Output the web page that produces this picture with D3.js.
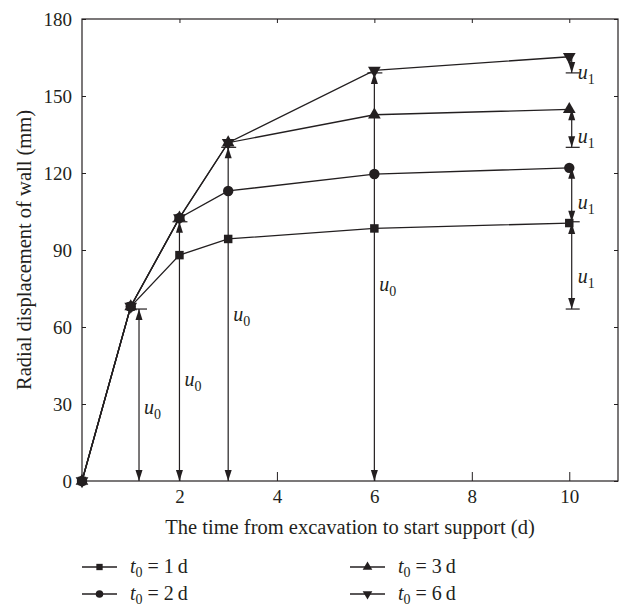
<!DOCTYPE html>
<html>
<head>
<meta charset="utf-8">
<script src="https://cdnjs.cloudflare.com/ajax/libs/d3/7.8.5/d3.min.js"></script>
<style>
  body { margin: 0; background: #fff; }
  text { font-family: "Liberation Serif", "DejaVu Serif", serif; fill: #231f20; }
</style>
</head>
<body>
<div id="chart"></div>
<script>
// data
var times = [0, 1, 2, 3, 6, 10];
var s1 = [0, 68, 88, 94.3, 98.4, 100.5];     // t0 = 1 d
var s2 = [0, 68, 102.5, 113, 119.6, 122];    // t0 = 2 d
var s3 = [0, 68, 102.5, 131.8, 142.7, 144.8]; // t0 = 3 d
var s6 = [0, 68, 102.5, 131.8, 160, 165.3];  // t0 = 6 d
var seriesNames = ["1", "2", "3", "6"];
var xTicks = [2, 4, 6, 8, 10];
var yTicks = [0, 30, 60, 90, 120, 150, 180];

// u0 annotations: arrow position (d), u0 value, label height
var u0X = [1.17, 2, 3, 6];
var u0Val = [67, 101, 130, 159];
var u0Lab = [28.4, 39.3, 64.7, 76.4];
// u1 annotations at the last time, label heights
var u1X = 10.05;
var u1Lab = [159, 134, 108.3, 79.5];

var W = 626, H = 611;
var ink = "#231f20";
var svg = d3.select("#chart").append("svg").attr("width", W).attr("height", H);

var x = d3.scaleLinear().domain([0, 11]).range([82, 618]);
var y = d3.scaleLinear().domain([0, 180]).range([481, 19]);

// axes (ticks pointing inward, mirrored on top/right)
var gx = svg.append("g").attr("transform", "translate(0,481)")
    .call(d3.axisBottom(x).tickValues(xTicks).tickSizeInner(-9).tickSizeOuter(0).tickPadding(9));
var gy = svg.append("g").attr("transform", "translate(82,0)")
    .call(d3.axisLeft(y).tickValues(yTicks).tickSizeInner(-4).tickSizeOuter(0).tickPadding(10));
var gt = svg.append("g").attr("transform", "translate(0,19)")
    .call(d3.axisTop(x).tickValues(xTicks).tickSizeInner(-4).tickSizeOuter(0).tickFormat(""));
var gr = svg.append("g").attr("transform", "translate(618,0)")
    .call(d3.axisRight(y).tickValues(yTicks).tickSizeInner(-4).tickSizeOuter(0).tickFormat(""));
[gx, gy, gt, gr].forEach(function(g) {
    g.select(".domain").remove();
    g.selectAll("line").attr("stroke", ink).attr("stroke-width", 1);
    g.selectAll("text").style("font-family", "Liberation Serif, serif").attr("font-size", 19).attr("fill", ink);
});
svg.append("rect").attr("x", 82).attr("y", 19).attr("width", 536).attr("height", 462)
    .attr("fill", "none").attr("stroke", ink).attr("stroke-width", 1.2);

// axis titles
svg.append("text").attr("x", 350).attr("y", 534).attr("text-anchor", "middle")
    .attr("font-size", 20.5).text("The time from excavation to start support (d)");
svg.append("text").attr("transform", "translate(31,250) rotate(-90)").attr("text-anchor", "middle")
    .attr("font-size", 20.5).text("Radial displacement of wall (mm)");

// arrow helpers
function head(g, px, tip, dir) { // dir = -1 up, +1 down
    var L = 11, hw = 3.5;
    g.append("path")
        .attr("d", "M" + px + "," + tip + "L" + (px - hw) + "," + (tip - dir * L) + "L" + (px + hw) + "," + (tip - dir * L) + "Z")
        .attr("fill", ink);
}
function uLabel(px, val, sub) {
    var t = svg.append("text").attr("x", px).attr("y", y(val)).attr("dy", "0.3em").attr("font-size", 20);
    t.append("tspan").attr("font-style", "italic").text("u");
    t.append("tspan").attr("font-size", 14).attr("dy", 5).text(sub);
}

var ann = svg.append("g");
// u0 arrows from the x-axis up to the value at support start
u0X.forEach(function(t, i) {
    var px = x(t), top = y(u0Val[i]), bot = y(0);
    ann.append("line").attr("x1", px).attr("x2", px).attr("y1", bot).attr("y2", top)
        .attr("stroke", ink).attr("stroke-width", 1.2);
    ann.append("line").attr("x1", px - 7).attr("x2", px + 8).attr("y1", top).attr("y2", top)
        .attr("stroke", ink).attr("stroke-width", 1.2);
    head(ann, px, bot, 1);
    head(ann, px, top, -1);
    uLabel(px + 5, u0Lab[i], "0");
});

// u1 arrows at the final time, from u0 to the final displacement
var finals = [s6, s3, s2, s1].map(function(s) { return s[s.length - 1]; });
var u0Desc = u0Val.slice().reverse();
finals.forEach(function(v, i) {
    var px = x(u1X), top = y(v), bot = y(u0Desc[i]);
    ann.append("line").attr("x1", px).attr("x2", px).attr("y1", top).attr("y2", bot)
        .attr("stroke", ink).attr("stroke-width", 1.2);
    ann.append("line").attr("x1", px - 6).attr("x2", px + 8).attr("y1", bot).attr("y2", bot)
        .attr("stroke", ink).attr("stroke-width", 1.2);
    head(ann, px, bot, 1);
    if (bot - top > 25) head(ann, px, top, -1);
    uLabel(px + 6, u1Lab[i], "1");
});

// series lines and markers
var allSeries = [s1, s2, s3, s6];
var symbols = [
    d3.symbol().type(d3.symbolSquare).size(72),
    d3.symbol().type(d3.symbolCircle).size(85),
    d3.symbol().type(d3.symbolTriangle).size(70),
    d3.symbol().type(d3.symbolTriangle).size(70)
];
var line = d3.line().x(function(d) { return x(d[0]); }).y(function(d) { return y(d[1]); });
allSeries.forEach(function(s, k) {
    var pts = times.map(function(t, i) { return [t, s[i]]; });
    svg.append("path").datum(pts).attr("d", line)
        .attr("fill", "none").attr("stroke", ink).attr("stroke-width", 1.3);
    svg.selectAll(".m" + k).data(pts).enter().append("path")
        .attr("class", "m" + k)
        .attr("d", symbols[k])
        .attr("transform", function(d) {
            return "translate(" + x(d[0]) + "," + y(d[1]) + ")" + (k === 3 ? " rotate(180)" : "");
        })
        .attr("fill", ink);
});

// legend
var legSymbols = [
    d3.symbol().type(d3.symbolSquare).size(40),
    d3.symbol().type(d3.symbolCircle).size(45),
    d3.symbol().type(d3.symbolTriangle).size(40),
    d3.symbol().type(d3.symbolTriangle).size(40)
];
var legX = [82, 82, 350, 350], legY = [567, 594, 567, 594];
seriesNames.forEach(function(nm, k) {
    var g = svg.append("g").attr("transform", "translate(" + legX[k] + "," + legY[k] + ")");
    g.append("line").attr("x1", 0).attr("x2", 35).attr("stroke", ink).attr("stroke-width", 1.3);
    g.append("path").attr("d", legSymbols[k]).attr("fill", ink)
        .attr("transform", "translate(17.5,0)" + (k === 3 ? " rotate(180)" : ""));
    var t = g.append("text").attr("x", 48).attr("dy", "0.3em").attr("font-size", 20);
    t.append("tspan").attr("font-style", "italic").text("t");
    t.append("tspan").attr("font-size", 14).attr("dy", 4).text("0");
    t.append("tspan").attr("dy", -4).text(" = " + nm + "\u2009d");
});
</script>
</body>
</html>
